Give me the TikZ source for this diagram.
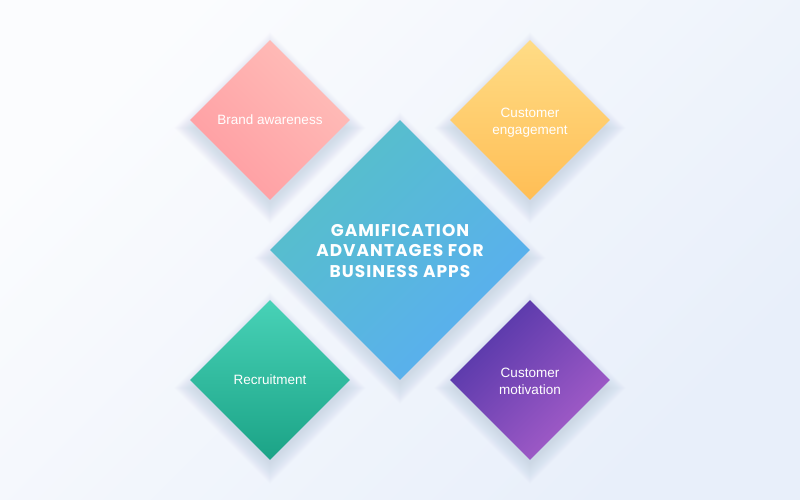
\documentclass[tikz,border=0pt]{standalone}
\usepackage{fontspec}
\setmainfont{Liberation Sans}
\newfontfamily\titlefont[LetterSpace=6]{Poppins}
\usetikzlibrary{shapes.geometric}
\definecolor{bgA}{HTML}{FBFCFE}
\definecolor{bgB}{HTML}{E8EFFA}
\definecolor{shadowc}{HTML}{5A6A92}
\definecolor{baL}{HTML}{FFBEB9}
\definecolor{baD}{HTML}{FF9DA2}
\definecolor{ceT}{HTML}{FFDC86}
\definecolor{ceB}{HTML}{FFBE55}
\definecolor{ctT}{HTML}{56C0C8}
\definecolor{ctB}{HTML}{5AAEF2}
\definecolor{rcT}{HTML}{48D2B7}
\definecolor{rcB}{HTML}{1BA386}
\definecolor{cmT}{HTML}{5236A8}
\definecolor{cmB}{HTML}{A85ECA}
\tikzset{
  gem/.style={diamond, aspect=1, inner sep=0pt},
  smallgem/.style={gem, minimum width=160pt, minimum height=160pt},
  biggem/.style={gem, minimum width=260pt, minimum height=260pt},
  smalltext/.style={text=white, align=center, inner sep=0pt, font=\fontsize{13.5}{17}\selectfont},
  bigtext/.style={text=white, align=center, inner sep=0pt, font=\titlefont\bfseries\fontsize{17}{20.5}\selectfont},
  softshadow/.style={fill=shadowc, fill opacity=0.008}
}
\begin{document}
\begin{tikzpicture}[x=1pt,y=1pt]
\shade[top color=bgA, bottom color=bgB, shading angle=45] (0,0) rectangle (800,499);
\useasboundingbox (0,0) rectangle (800,499);
% soft shadows
\foreach \cx/\cy/\h in {400/249/130, 270/379/80, 530/379/80, 270/119/80, 530/119/80}{
  \foreach \i in {0,1,...,20}{
    \pgfmathsetmacro{\r}{\h+\i-4}
    \fill[softshadow] (\cx,\cy-8+\r) -- (\cx+\r,\cy-8) -- (\cx,\cy-8-\r) -- (\cx-\r,\cy-8) -- cycle;
  }
}
\node[biggem, top color=ctT, bottom color=ctB, shading angle=45] (center) at (400,249) {};
\node[smallgem, top color=baL, bottom color=baD, shading angle=-45] (brand) at (270,379) {};
\node[smallgem, top color=ceT, bottom color=ceB] (engage) at (530,379) {};
\node[smallgem, top color=rcT, bottom color=rcB] (recruit) at (270,119) {};
\node[smallgem, top color=cmT, bottom color=cmB, shading angle=45] (motiv) at (530,119) {};
\node[bigtext] (centertext) at ([yshift=-1pt]center.center) {GAMIFICATION\\ADVANTAGES FOR\\BUSINESS APPS};
\node[smalltext] (brandtext) at ([yshift=0pt]brand.center) {Brand awareness};
\node[smalltext] (engagetext) at ([yshift=-2.5pt]engage.center) {Customer\\engagement};
\node[smalltext] (recruittext) at (recruit.center) {Recruitment};
\node[smalltext] (motivtext) at ([yshift=-1.5pt]motiv.center) {Customer\\motivation};
\end{tikzpicture}
\end{document}
